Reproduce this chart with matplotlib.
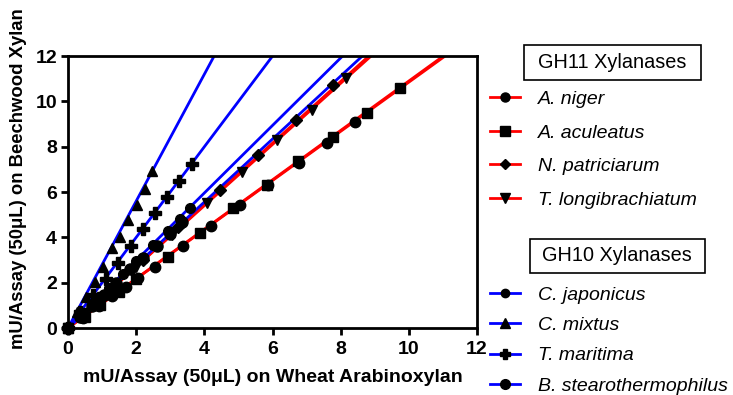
import matplotlib.pyplot as plt
from matplotlib.lines import Line2D
from matplotlib.patches import Rectangle

plt.rcParams['font.family'] = ['Liberation Sans', 'DejaVu Sans']

# GH11 xylanases (red)
niger_x = [0, 0.45, 0.9, 1.3, 1.7, 2.05, 2.55, 3.38, 4.2, 5.04, 5.87, 6.78, 7.6, 8.42]
niger_y = [0, 0.45, 0.95, 1.4, 1.8, 2.2, 2.7, 3.62, 4.52, 5.43, 6.33, 7.3, 8.16, 9.09]
acul_x = [0, 0.5, 0.95, 1.5, 2.0, 2.94, 3.87, 4.85, 5.85, 6.75, 7.77, 8.77, 9.74]
acul_y = [0, 0.5, 1.0, 1.6, 2.15, 3.13, 4.19, 5.29, 6.31, 7.35, 8.43, 9.48, 10.59]
patr_x = [0, 0.45, 0.9, 1.35, 2.2, 3.23, 4.46, 5.58, 6.69, 7.77]
patr_y = [0, 0.6, 1.2, 1.85, 3.0, 4.46, 6.09, 7.63, 9.17, 10.72]
longi_x = [0, 0.5, 1.0, 2.0, 3.05, 4.07, 5.1, 6.12, 7.15, 8.17]
longi_y = [0, 0.68, 1.35, 2.7, 4.12, 5.53, 6.88, 8.29, 9.64, 11.03]

# GH10 xylanases (blue)
japo_x = [0, 0.4, 0.8, 1.2, 1.6, 2.0, 2.49, 2.93, 3.28, 3.58]
japo_y = [0, 0.6, 1.2, 1.78, 2.4, 2.95, 3.66, 4.3, 4.8, 5.3]
mixt_x = [0, 0.26, 0.52, 0.78, 1.03, 1.29, 1.52, 1.76, 2.02, 2.26, 2.46]
mixt_y = [0, 0.7, 1.38, 2.05, 2.69, 3.53, 4.01, 4.76, 5.43, 6.12, 6.92]
mari_x = [0, 0.36, 0.73, 1.1, 1.47, 1.85, 2.2, 2.55, 2.9, 3.26, 3.64]
mari_y = [0, 0.72, 1.45, 2.15, 2.87, 3.62, 4.37, 5.07, 5.76, 6.48, 7.24]
stea_x = [0, 0.35, 0.7, 1.05, 1.42, 1.82, 2.2, 2.6, 3.0, 3.35]
stea_y = [0, 0.48, 0.97, 1.45, 1.97, 2.6, 3.1, 3.62, 4.15, 4.66]

# fitted slopes (lines through origin)
slopes = {'niger': 1.085, 'acul': 1.09, 'patr': 1.36, 'longi': 1.35,
          'japo': 1.49, 'mixt': 2.80, 'mari': 2.0, 'stea': 1.39}

RED = '#ff0000'
BLUE = '#0000ff'

series = [
    ('A. niger', niger_x, niger_y, 'o', RED, 'niger', 7.5),
    ('A. aculeatus', acul_x, acul_y, 's', RED, 'acul', 7.5),
    ('N. patriciarum', patr_x, patr_y, 'D', RED, 'patr', 6),
    ('T. longibrachiatum', longi_x, longi_y, 'v', RED, 'longi', 7.5),
    ('C. japonicus', japo_x, japo_y, 'o', BLUE, 'japo', 7),
    ('C. mixtus', mixt_x, mixt_y, '^', BLUE, 'mixt', 7.5),
    ('T. maritima', mari_x, mari_y, 'P', BLUE, 'mari', 8),
    ('B. stearothermophilus', stea_x, stea_y, 'o', BLUE, 'stea', 8),
]

fig = plt.figure(figsize=(7.33, 3.95), dpi=100)
ax = fig.add_axes([0.0928, 0.1696, 0.558, 0.6884])

handles = []
for name, xs, ys, mk, col, key, ms in series:
    ax.axline((0, 0), slope=slopes[key], color=col, lw=2, zorder=2)
    ax.plot(xs, ys, ls='none', marker=mk, color='black', ms=ms, zorder=3, clip_on=False)
    handles.append(Line2D([], [], color=col, lw=2, marker=mk, mfc='black', mec='black', ms=ms - 1))

ax.set_xlim(0, 12)
ax.set_ylim(0, 12)
ax.set_xticks(range(0, 13, 2))
ax.set_yticks(range(0, 13, 2))
for s in ax.spines.values():
    s.set_linewidth(2)
ax.tick_params(width=2, length=5, labelsize=14)
ax.tick_params(axis='x', pad=4)
ax.tick_params(axis='y', pad=3)
for lab in ax.get_xticklabels() + ax.get_yticklabels():
    lab.set_fontweight('bold')
ax.set_xlabel('mU/Assay (50\u03bcL) on Wheat Arabinoxylan', fontsize=14, fontweight='bold', va='top')
ax.set_ylabel('mU/Assay (50\u03bcL) on Beechwood Xylan', fontsize=13.3, fontweight='bold')
ax.xaxis.set_label_coords(0.5, -0.152)
ax.yaxis.set_label_coords(-0.1, 0.55)

leg_kw = dict(frameon=False, handlelength=1.55, handletextpad=0.95,
              borderpad=0, borderaxespad=0, loc='upper left',
              prop={'style': 'italic', 'size': 14})
fig.legend(handles[:4], [s[0] for s in series[:4]], bbox_to_anchor=(0.668, 0.771),
           labelspacing=0.82, **leg_kw)
fig.legend(handles[4:], [s[0] for s in series[4:]], bbox_to_anchor=(0.668, 0.276),
           labelspacing=0.66, **leg_kw)

# boxed group titles
fig.add_artist(Rectangle((0.715, 0.797), 0.241, 0.089, transform=fig.transFigure,
                         fc='white', ec='black', lw=1.2))
fig.text(0.835, 0.842, 'GH11 Xylanases', fontsize=14.3, ha='center', va='center')
fig.add_artist(Rectangle((0.723, 0.309), 0.239, 0.086, transform=fig.transFigure,
                         fc='white', ec='black', lw=1.2))
fig.text(0.842, 0.352, 'GH10 Xylanases', fontsize=14.3, ha='center', va='center')

fig.savefig('out.png', dpi=100)
